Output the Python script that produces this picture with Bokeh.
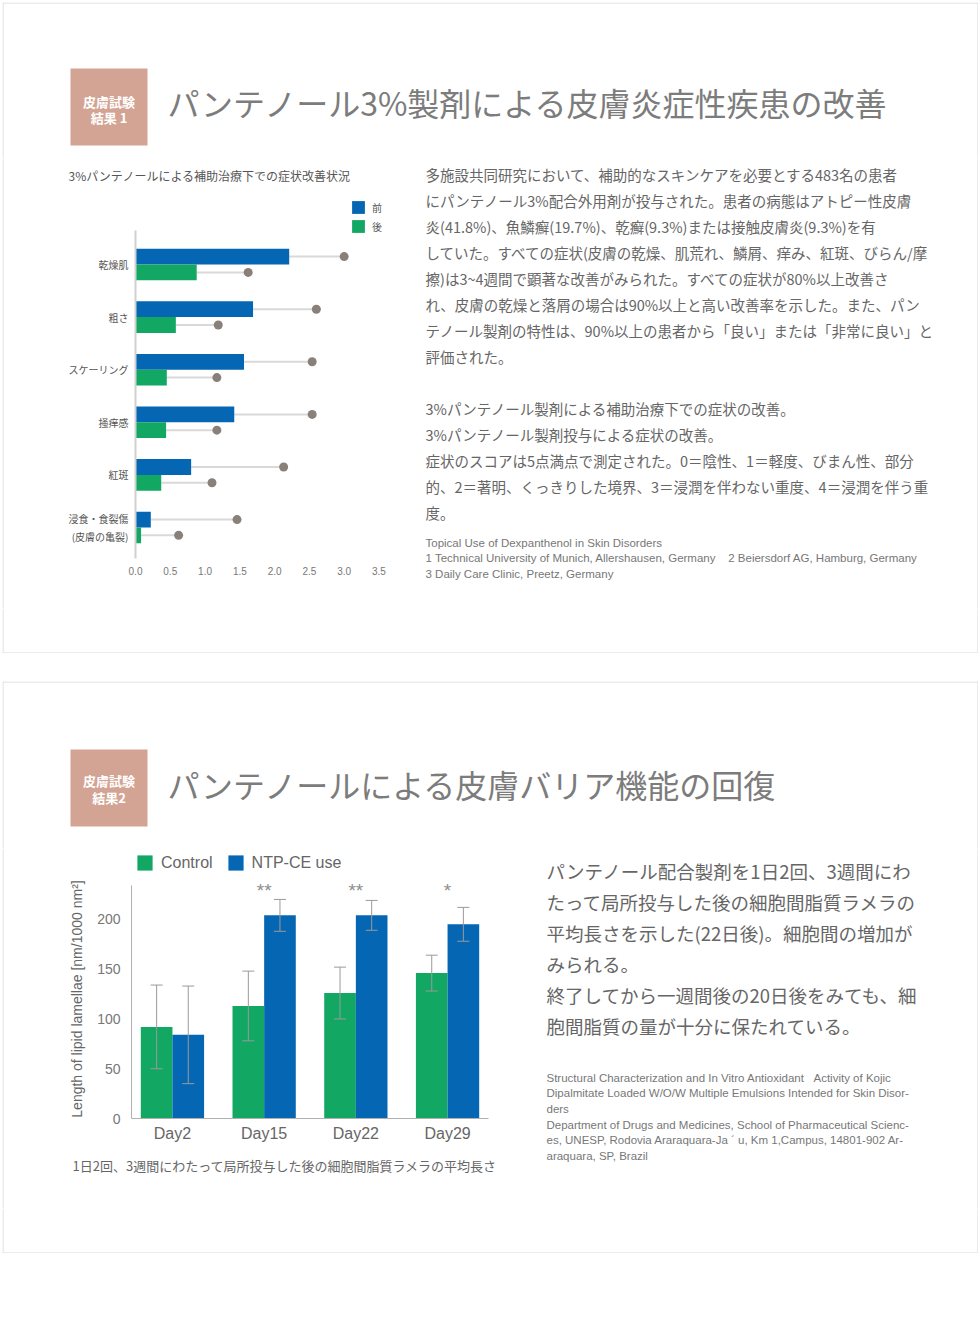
from bokeh.plotting import figure
from bokeh.layouts import column, row
from bokeh.models import (Range1d, FactorRange, ColumnDataSource, Legend, LegendItem,
                          Whisker, NumeralTickFormatter, FixedTicker, Spacer)
from bokeh.transform import dodge
from bokeh.core.properties import value
from bokeh.embed import file_html
from bokeh.resources import INLINE

JP = "Noto Sans CJK JP"
LAT = "Liberation Sans"
BLUE = "#0566b4"
GREEN = "#12a864"
DOT = "#8a807a"
STEM = "#d9d9d9"
BOX = "#d3a494"
TXT = "#666666"
BORDER = "#d9d9d9"
ERR = "#9a9a9a"
NB = "\u00a0"

# ---------------- data: chart 1 ----------------
symptoms = ["乾燥肌", "粗さ", "スケーリング", "掻痒感", "紅斑", "浸食・食裂傷\n(皮膚の亀裂)"]
before_score = [2.21, 1.69, 1.56, 1.42, 0.80, 0.22]
before_upper = [3.00, 2.60, 2.54, 2.54, 2.13, 1.46]
after_score = [0.88, 0.58, 0.45, 0.44, 0.37, 0.08]
after_upper = [1.62, 1.19, 1.17, 1.17, 1.10, 0.62]
score_ticks = [0.0, 0.5, 1.0, 1.5, 2.0, 2.5, 3.0, 3.5]
legend1_labels = ["前", "後"]

# ---------------- data: chart 2 ----------------
days = ["Day2", "Day15", "Day22", "Day29"]
control_len = [92, 113, 126, 146]
control_err = [42, 35, 26, 18]
ntp_len = [84, 204, 204, 195]
ntp_err = [49, 16, 15, 17]
significance = ["", "**", "**", "*"]
length_ticks = [0, 50, 100, 150, 200]
legend2_labels = ["Control", "NTP-CE use"]

# ---------------- texts ----------------
title1 = "パンテノール3%製剤による皮膚炎症性疾患の改善"
title2 = "パンテノールによる皮膚バリア機能の回復"
badge1 = ["皮膚試験", "結果 1"]
badge2 = ["皮膚試験", "結果2"]
subtitle1 = "3%パンテノールによる補助治療下での症状改善状況"
para1 = [
    "多施設共同研究において、補助的なスキンケアを必要とする483名の患者",
    "にパンテノール3%配合外用剤が投与された。患者の病態はアトピー性皮膚",
    "炎(41.8%)、魚鱗癬(19.7%)、乾癬(9.3%)または接触皮膚炎(9.3%)を有",
    "していた。すべての症状(皮膚の乾燥、肌荒れ、鱗屑、痒み、紅斑、びらん/摩",
    "擦)は3~4週間で顕著な改善がみられた。すべての症状が80%以上改善さ",
    "れ、皮膚の乾燥と落屑の場合は90%以上と高い改善率を示した。また、パン",
    "テノール製剤の特性は、90%以上の患者から「良い」または「非常に良い」と",
    "評価された。",
]
para2 = [
    "3%パンテノール製剤による補助治療下での症状の改善。",
    "3%パンテノール製剤投与による症状の改善。",
    "症状のスコアは5点満点で測定された。0＝陰性、1＝軽度、びまん性、部分",
    "的、2＝著明、くっきりした境界、3＝浸潤を伴わない重度、4＝浸潤を伴う重",
    "度。",
]
refs1 = [
    "Topical Use of Dexpanthenol in Skin Disorders",
    "1 Technical University of Munich, Allershausen, Germany" + NB * 4 + "2 Beiersdorf AG, Hamburg, Germany",
    "3 Daily Care Clinic, Preetz, Germany",
]
para3 = [
    "パンテノール配合製剤を1日2回、3週間にわ",
    "たって局所投与した後の細胞間脂質ラメラの",
    "平均長さを示した(22日後)。細胞間の増加が",
    "みられる。",
    "終了してから一週間後の20日後をみても、細",
    "胞間脂質の量が十分に保たれている。",
]
refs2 = [
    "Structural Characterization and In Vitro Antioxidant" + NB * 3 + "Activity of Kojic",
    "Dipalmitate Loaded W/O/W Multiple Emulsions Intended for Skin Disor-",
    "ders",
    "Department of Drugs and Medicines, School of Pharmaceutical Scienc-",
    "es, UNESP, Rodovia Araraquara-Ja ´ u, Km 1,Campus, 14801-902 Ar-",
    "araquara, SP, Brazil",
]
caption2 = "1日2回、3週間にわたって局所投与した後の細胞間脂質ラメラの平均長さ"

W = 976


def canvas(w, h):
    p = figure(width=w, height=h, x_range=Range1d(0, w), y_range=Range1d(h, 0),
               x_axis_type=None, y_axis_type=None, output_backend="svg",
               toolbar_location=None, min_border=0)
    p.frame_align = False
    p.outline_line_color = None
    p.background_fill_color = "white"
    p.border_fill_color = "white"
    return p


def lines(p, x, ys, texts, size, color=TXT, font=JP, style="normal", align="left"):
    p.text(x=[x] * len(texts), y=ys, text=texts, text_font=value(font),
           text_font_size=value(size), text_color=color, text_align=align,
           text_baseline="middle", text_font_style=style)


def border(p, w, h, top=False, bottom=False, left=True, right=True):
    x0, x1, y0, y1 = [], [], [], []
    if top:
        x0.append(0); x1.append(w); y0.append(0.5); y1.append(0.5)
    if bottom:
        x0.append(0); x1.append(w); y0.append(h - 0.5); y1.append(h - 0.5)
    if left:
        x0.append(0.5); x1.append(0.5); y0.append(0); y1.append(h)
    if right:
        x0.append(w - 0.5); x1.append(w - 0.5); y0.append(0); y1.append(h)
    p.segment(x0=x0, y0=y0, x1=x1, y1=y1, line_color=BORDER, line_width=1)


def header(h, box_top, badge, badge_ys, title, title_y):
    p = canvas(W, h)
    border(p, W, h, top=True)
    p.quad(left=68, right=145, top=box_top, bottom=box_top + 77, fill_color=BOX, line_color=None)
    lines(p, 106.5, badge_ys, badge, "13px", color="white", style="bold", align="center")
    lines(p, 165, [title_y], [title], "32px", color="#7c7c7c")
    return p


def plain_axes(p):
    p.frame_align = False
    p.grid.visible = False
    p.outline_line_color = None
    p.axis.major_tick_line_color = None
    p.axis.minor_tick_line_color = None
    p.axis.major_tick_out = 0
    p.axis.major_tick_in = 0
    p.axis.minor_tick_out = 0
    p.axis.minor_tick_in = 0


# ================= PANEL 1 =================
T1 = header(156, 66, badge1, [99, 115], title1, 99)

L1 = canvas(55, 450)
border(L1, 55, 450, right=False)

S1 = canvas(350, 40)
lines(S1, 11, [17], [subtitle1], "12px", color="#555555")

sym_pos = list(range(len(symptoms)))[::-1]          # first symptom on top
src1 = ColumnDataSource(dict(pos=sym_pos, before=before_score, before_up=before_upper,
                             after=after_score, after_up=after_upper))
C1 = figure(width=350, height=410, x_range=Range1d(0, 3.58), y_range=Range1d(-0.59, 6.236),
            output_backend="svg", toolbar_location=None,
            min_border_left=78, min_border_right=23, min_border_top=1, min_border_bottom=50)
yb = dodge("pos", 0.15)
ya = dodge("pos", -0.15)
C1.segment(x0="before", y0=yb, x1="before_up", y1=yb, source=src1, line_color=STEM, line_width=2)
C1.segment(x0="after", y0=ya, x1="after_up", y1=ya, source=src1, line_color=STEM, line_width=2)
rb = C1.hbar(y=yb, left=0, right="before", height=0.3, source=src1, fill_color=BLUE, line_color=None)
ra = C1.hbar(y=ya, left=0, right="after", height=0.3, source=src1, fill_color=GREEN, line_color=None)
C1.scatter(x="before_up", y=yb, size=9, source=src1, fill_color=DOT, line_color=None)
C1.scatter(x="after_up", y=ya, size=9, source=src1, fill_color=DOT, line_color=None)
leg1 = Legend(items=[LegendItem(label=legend1_labels[0], renderers=[rb]),
                     LegendItem(label=legend1_labels[1], renderers=[ra])],
              location=(215, 324), orientation="vertical", padding=0, margin=0, spacing=3,
              glyph_width=16, glyph_height=16, label_height=16, label_standoff=6,
              label_text_font=JP, label_text_font_size="10px", label_text_color="#555555",
              background_fill_alpha=0, border_line_color=None)
C1.add_layout(leg1)
plain_axes(C1)
C1.xaxis.ticker = FixedTicker(ticks=score_ticks)
C1.xaxis.formatter = NumeralTickFormatter(format="0.0")
C1.xaxis.axis_line_color = None
C1.xaxis.major_label_text_font = LAT
C1.xaxis.major_label_text_font_size = "10px"
C1.xaxis.major_label_text_color = "#777777"
C1.xaxis.major_label_standoff = 8
C1.yaxis.ticker = FixedTicker(ticks=sym_pos)
C1.yaxis.major_label_overrides = {p: s for p, s in zip(sym_pos, symptoms)}
C1.yaxis.bounds = (-0.59, 5.65)
C1.yaxis.axis_line_color = "#d0d0d0"
C1.yaxis.axis_line_width = 2
C1.yaxis.major_label_text_font = JP
C1.yaxis.major_label_text_font_size = "10px"
C1.yaxis.major_label_text_color = "#555555"
C1.yaxis.major_label_standoff = 7

R1 = canvas(571, 450)
border(R1, 571, 450, left=False)
lines(R1, 18, [16 + 26 * k for k in range(len(para1))], para1, "14.5px")
lines(R1, 18, [250 + 26 * k for k in range(len(para2))], para2, "14.5px")
lines(R1, 18, [384, 399, 415], refs1, "11.5px", color="#777777", font=LAT)

B1 = canvas(W, 45)
border(B1, W, 45, bottom=True)

panel1 = column(T1, row(L1, column(S1, C1), R1), B1)

# ================= PANEL 2 =================
T2 = header(167, 68, badge2, [99, 116], title2, 102)

L2 = canvas(55, 360)
border(L2, 55, 360, right=False)

src2 = ColumnDataSource(dict(
    day=days, control=control_len, ntp=ntp_len,
    c_lo=[m - e for m, e in zip(control_len, control_err)],
    c_hi=[m + e for m, e in zip(control_len, control_err)],
    n_lo=[m - e for m, e in zip(ntp_len, ntp_err)],
    n_hi=[m + e for m, e in zip(ntp_len, ntp_err)],
    sig=significance))
C2 = figure(width=450, height=273,
            x_range=FactorRange(factors=days, range_padding=-0.0535, range_padding_units="absolute"),
            y_range=Range1d(0, 240), output_backend="svg", toolbar_location=None,
            min_border_left=74, min_border_right=19, min_border_top=4, min_border_bottom=30)
xc = dodge("day", -0.1725, range=C2.x_range)
xn = dodge("day", 0.1725, range=C2.x_range)
rc = C2.vbar(x=xc, top="control", bottom=0, width=0.345, source=src2, fill_color=GREEN, line_color=None)
rn = C2.vbar(x=xn, top="ntp", bottom=0, width=0.345, source=src2, fill_color=BLUE, line_color=None)
for base, lo, hi in [(xc, "c_lo", "c_hi"), (xn, "n_lo", "n_hi")]:
    w = Whisker(base=base, lower=lo, upper=hi, source=src2, line_color=ERR, line_width=1, level="overlay")
    w.upper_head.size = 12
    w.lower_head.size = 12
    w.upper_head.line_color = ERR
    w.lower_head.line_color = ERR
    C2.add_layout(w)
C2.text(x="day", y=229, text="sig", source=src2, text_font=value(LAT),
        text_font_size=value("19px"), text_color="#8c8c8c", text_align="center",
        text_baseline="middle")
plain_axes(C2)
C2.yaxis.ticker = FixedTicker(ticks=length_ticks)
C2.yaxis.bounds = (0, 234)
C2.yaxis.axis_label = "Length of lipid lamellae [nm/1000 nm²]"
C2.yaxis.axis_label_text_font = LAT
C2.yaxis.axis_label_text_font_size = "14px"
C2.yaxis.axis_label_text_font_style = "normal"
C2.yaxis.axis_label_text_color = "#666666"
C2.yaxis.axis_label_standoff = 9
C2.yaxis.major_label_text_font = LAT
C2.yaxis.major_label_text_font_size = "14px"
C2.yaxis.major_label_text_color = "#777777"
C2.yaxis.major_label_standoff = 11
C2.yaxis.axis_line_color = "#b0b0b0"
C2.xaxis.axis_line_color = "#b0b0b0"
C2.xaxis.major_label_text_font = LAT
C2.xaxis.major_label_text_font_size = "16px"
C2.xaxis.major_label_text_color = "#666666"
C2.xaxis.major_label_standoff = 6

# legend strip above chart 2: zero-height swatch bars styled like the chart's bars
LG2 = canvas(450, 27)
swatch_src = ColumnDataSource(dict(x=[0], top=[0]))
sw_c = LG2.vbar(x="x", top="top", bottom=0, width=1, source=swatch_src, fill_color=GREEN, line_color=None)
sw_n = LG2.vbar(x="x", top="top", bottom=0, width=1, source=swatch_src, fill_color=BLUE, line_color=None)
leg2 = Legend(items=[LegendItem(label=legend2_labels[0], renderers=[sw_c]),
                     LegendItem(label=legend2_labels[1], renderers=[sw_n])],
              location=(78, 3), orientation="horizontal", padding=0, margin=0, spacing=13,
              glyph_width=19, glyph_height=19, label_height=19, label_standoff=7,
              label_text_font=LAT, label_text_font_size="16px", label_text_color="#666666",
              background_fill_alpha=0, border_line_color=None)
LG2.add_layout(leg2)

S2 = canvas(450, 60)
lines(S2, 15, [17], [caption2], "13px")

R2 = canvas(471, 360)
border(R2, 471, 360, left=False)
lines(R2, 39, [22 + 31 * k for k in range(len(para3))], para3, "18.5px")
lines(R2, 39, [229, 244, 260, 276, 291, 307], refs2, "11.5px", color="#777777", font=LAT)

B2 = canvas(W, 45)
border(B2, W, 45, bottom=True)

panel2 = column(T2, row(L2, column(LG2, C2, S2), R2), B2)

body = column(panel1, Spacer(width=W, height=28), panel2)
page = column(Spacer(width=W + 2, height=2), row(Spacer(width=2, height=10), body))

open("out.html", "w").write(file_html(page, INLINE, title="chart"))
